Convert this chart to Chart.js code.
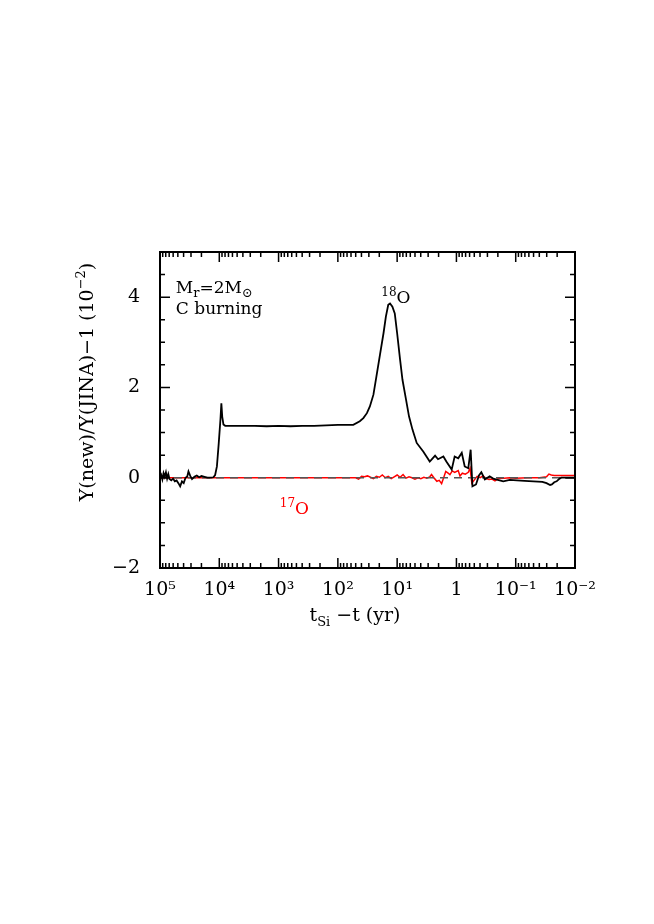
<!DOCTYPE html>
<html>
<head>
<meta charset="utf-8">
<script src="https://cdn.jsdelivr.net/npm/chart.js@4/dist/chart.umd.min.js"></script>
<style>
html, body { margin: 0; background: #fff; }
#wrap { width: 654px; height: 924px; }
</style>
</head>
<body>
<div id="wrap"><canvas id="c"></canvas></div>
<script>
// x: log10(t_Si - t) in yr, y: Y(new)/Y(JINA)-1 in units of 1e-2
var o18LogT = [5.00, 4.98, 4.96, 4.94, 4.92, 4.90, 4.88, 4.86, 4.84, 4.81, 4.78, 4.75, 4.72, 4.69, 4.66,
  4.63, 4.60, 4.57, 4.54, 4.52, 4.49, 4.46, 4.42, 4.38, 4.34, 4.30, 4.25, 4.20, 4.14, 4.10, 4.07, 4.04,
  4.01, 3.98, 3.965, 3.95, 3.93, 3.90, 3.80, 3.60, 3.40, 3.20, 3.00, 2.80, 2.60, 2.40, 2.20, 2.00, 1.85,
  1.74, 1.63, 1.57, 1.51, 1.46, 1.40, 1.35, 1.29, 1.23, 1.19, 1.15, 1.12, 1.08, 1.04, 1.00, 0.95, 0.91,
  0.85, 0.80, 0.74, 0.67, 0.56, 0.45, 0.42, 0.36, 0.31, 0.22, 0.17, 0.08, 0.03, -0.03, -0.09, -0.14,
  -0.20, -0.24, -0.27, -0.33, -0.38, -0.42, -0.48, -0.56, -0.62, -0.68, -0.79, -0.90, -1.02, -1.15,
  -1.30, -1.45, -1.52, -1.58, -1.61, -1.65, -1.69, -1.74, -1.77, -1.85, -2.00];
var o18Val = [0.00, 0.06, -0.04, 0.10, 0.02, 0.12, -0.02, 0.08, -0.03, -0.06, -0.02, -0.08, -0.06, -0.12, -0.19,
  -0.08, -0.12, 0.00, 0.03, 0.14, 0.04, -0.03, 0.02, 0.05, 0.01, 0.04, 0.02, 0.00, 0.00, 0.01, 0.06, 0.25,
  0.75, 1.30, 1.65, 1.35, 1.18, 1.15, 1.15, 1.15, 1.15, 1.14, 1.15, 1.14, 1.15, 1.15, 1.16, 1.17, 1.17,
  1.17, 1.25, 1.32, 1.43, 1.58, 1.84, 2.24, 2.72, 3.20, 3.57, 3.83, 3.86, 3.79, 3.64, 3.20, 2.61, 2.17,
  1.73, 1.36, 1.06, 0.77, 0.58, 0.36, 0.40, 0.49, 0.41, 0.47, 0.36, 0.18, 0.47, 0.43, 0.55, 0.25,
  0.21, 0.62, -0.19, -0.15, 0.05, 0.12, -0.04, 0.03, -0.02, -0.04, -0.08, -0.05, -0.06, -0.07,
  -0.08, -0.09, -0.12, -0.16, -0.15, -0.10, -0.08, -0.02, 0.00, 0.00, 0.00];

var o17LogT = [5.00, 4.00, 3.00, 2.00, 1.75, 1.70, 1.65, 1.60, 1.55, 1.50, 1.45, 1.40, 1.35, 1.30, 1.25, 1.20,
  1.15, 1.10, 1.05, 1.00, 0.95, 0.90, 0.85, 0.80, 0.75, 0.70, 0.65, 0.60, 0.55, 0.50, 0.45, 0.42, 0.38,
  0.33, 0.29, 0.25, 0.21, 0.18, 0.14, 0.11, 0.07, 0.03, -0.03, -0.06, -0.10, -0.15, -0.20, -0.23, -0.26,
  -0.30, -0.35, -0.40, -0.45, -0.50, -0.55, -0.60, -0.65, -0.70, -0.80, -0.90, -1.00, -1.20, -1.40,
  -1.52, -1.56, -1.60, -1.65, -1.75, -2.00];
var o17Val = [0.00, 0.00, 0.00, 0.00, 0.00, 0.00, -0.03, 0.03, 0.02, 0.04, 0.01, -0.02, 0.03, 0.01, 0.06, 0.00,
  0.03, -0.02, 0.02, 0.06, 0.01, 0.07, -0.01, 0.02, 0.00, -0.03, 0.00, -0.02, 0.01, -0.01, 0.02, 0.07, 0.00,
  -0.08, -0.06, -0.13, 0.02, 0.14, 0.10, 0.07, 0.15, 0.12, 0.16, 0.04, 0.10, 0.08, 0.12, 0.21, -0.12,
  -0.05, 0.03, 0.00, 0.04, -0.02, -0.04, -0.03, -0.07, -0.02, -0.01, 0.00, -0.01, 0.00, 0.00,
  0.02, 0.08, 0.06, 0.05, 0.05, 0.05];

var xTickValues = [1e5, 1e4, 1e3, 1e2, 1e1, 1, 1e-1, 1e-2];
var xTickLabels = ['10⁵', '10⁴', '10³', '10²', '10¹', '1', '10⁻¹', '10⁻²'];
var yTickValues = [-2, 0, 2, 4];
var yTickLabels = ['−2', '0', '2', '4'];

var FONT = 'DejaVu Serif';

function pts(lt, v) {
  return lt.map(function (l, i) { return { x: Math.pow(10, l), y: v[i] }; });
}

// draw a run of text pieces [text, size, dy] starting at x
function drawRich(ctx, parts, x, y, align) {
  var w = 0;
  parts.forEach(function (p) { ctx.font = p[1] + 'px "' + FONT + '"'; w += ctx.measureText(p[0]).width; });
  var cx = align === 'center' ? x - w / 2 : x;
  parts.forEach(function (p) {
    ctx.font = p[1] + 'px "' + FONT + '"';
    ctx.fillText(p[0], cx, y + p[2]);
    cx += ctx.measureText(p[0]).width;
  });
}

var frameTicks = {
  id: 'frameTicks',
  afterDatasetsDraw: function (chart) {
    var ctx = chart.ctx, a = chart.chartArea, xs = chart.scales.x, ys = chart.scales.y;
    ctx.save();
    ctx.strokeStyle = '#000';
    ctx.lineWidth = 1.5;
    ctx.beginPath();
    for (var d = -2; d <= 5; d++) {
      for (var k = 1; k <= 9; k++) {
        if (d === 5 && k > 1) break;
        var px = xs.getPixelForValue(k * Math.pow(10, d));
        var len = k === 1 ? 10 : 5;
        ctx.moveTo(px, a.bottom); ctx.lineTo(px, a.bottom - len);
        ctx.moveTo(px, a.top); ctx.lineTo(px, a.top + len);
      }
    }
    for (var v = -2; v <= 5; v += 0.5) {
      var py = ys.getPixelForValue(v);
      var l = (v % 2 === 0) ? 10 : 5;
      ctx.moveTo(a.left, py); ctx.lineTo(a.left + l, py);
      ctx.moveTo(a.right, py); ctx.lineTo(a.right - l, py);
    }
    ctx.stroke();
    ctx.lineWidth = 2;
    ctx.strokeRect(a.left, a.top, a.right - a.left, a.bottom - a.top);

    ctx.fillStyle = '#000';
    ctx.textBaseline = 'alphabetic';
    // annotations
    drawRich(ctx, [['M', 17, 0], ['r', 13, 4], ['=2M', 17, 0], ['⊙', 13, 4]],
      xs.getPixelForValue(5.4e4), ys.getPixelForValue(4.09));
    drawRich(ctx, [['C burning', 17, 0]], xs.getPixelForValue(5.4e4), ys.getPixelForValue(3.63));
    drawRich(ctx, [['18', 12, -7], ['O', 17, 0]], xs.getPixelForValue(18.5), ys.getPixelForValue(3.87));
    ctx.fillStyle = '#ff0000';
    drawRich(ctx, [['17', 12, -7], ['O', 17, 0]], xs.getPixelForValue(955), ys.getPixelForValue(-0.80));

    // axis titles
    ctx.fillStyle = '#000';
    drawRich(ctx, [['t', 19, 0], ['Si', 13, 5], [' −t (yr)', 19, 0]], 355, 621, 'center');
    ctx.translate(93, 382);
    ctx.rotate(-Math.PI / 2);
    drawRich(ctx, [['Y(new)/Y(JINA)−1 (10', 19, 0], ['−2', 13, -8], [')', 19, 0]], 0, 0, 'center');
    ctx.restore();
  }
};

new Chart(document.getElementById('c'), {
  type: 'line',
  data: {
    datasets: [
      { label: '18O', data: pts(o18LogT, o18Val), borderColor: '#000', borderWidth: 1.8, order: 0 },
      { label: 'zero', data: [{ x: 1e5, y: 0 }, { x: 1e-2, y: 0 }], borderColor: '#555',
        borderWidth: 1.5, borderDash: [8, 6], order: 1 },
      { label: '17O', data: pts(o17LogT, o17Val), borderColor: '#ff0000', borderWidth: 1.5, order: 2 }
    ]
  },
  options: {
    responsive: true,
    maintainAspectRatio: false,
    animation: false,
    elements: { point: { radius: 0 }, line: { tension: 0, fill: false } },
    layout: { padding: { top: 252, right: 79, left: 0, bottom: 0 } },
    plugins: { legend: { display: false }, tooltip: { enabled: false } },
    scales: {
      x: {
        type: 'logarithmic',
        reverse: true,
        min: 1e-2,
        max: 1e5,
        grid: { display: false },
        border: { display: false },
        afterBuildTicks: function (s) { s.ticks = xTickValues.map(function (v) { return { value: v }; }); },
        afterFit: function (s) { s.height = 356; },
        ticks: {
          autoSkip: false, maxRotation: 0, padding: 3, color: '#000',
          font: { family: FONT, size: 19 },
          callback: function (v) { var i = xTickValues.indexOf(v); return i >= 0 ? xTickLabels[i] : ''; }
        }
      },
      y: {
        min: -2,
        max: 5,
        grid: { display: false },
        border: { display: false },
        afterBuildTicks: function (s) { s.ticks = yTickValues.map(function (v) { return { value: v }; }); },
        afterFit: function (s) { s.width = 160; },
        ticks: {
          padding: 12, color: '#000',
          font: { family: FONT, size: 19 },
          callback: function (v) { var i = yTickValues.indexOf(v); return i >= 0 ? yTickLabels[i] : ''; }
        }
      }
    }
  },
  plugins: [frameTicks]
});
</script>
</body>
</html>
